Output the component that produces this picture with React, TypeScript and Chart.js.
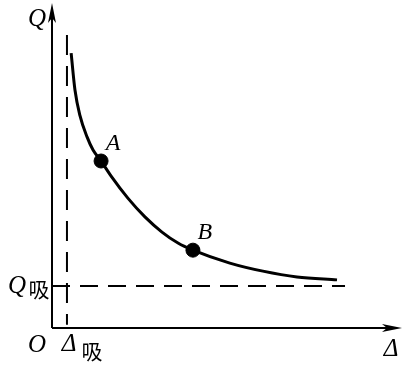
import React, { useEffect, useRef } from "react";
import { Chart, registerables } from "chart.js";

Chart.register(...registerables);

const curveDelta = [0.55, 0.66, 0.8, 1.01, 1.18, 1.41, 1.72, 2.18, 2.67, 3.16, 3.62, 4.05, 5.11, 6.06, 7.04, 8.19];
const curveQ = [8.51, 7.37, 6.59, 5.91, 5.51, 5.17, 4.67, 4.02, 3.44, 2.97, 2.63, 2.41, 2.01, 1.76, 1.58, 1.49];

// Marked points A and B
const pointNames = ["A", "B"];
const pointDelta = [1.41, 4.05];
const pointQ = [5.17, 2.41];

// Asymptote levels
const qAbs = 1.3; // Q吸
const deltaAbs = 0.43; // Δ吸
const hLineEnd = 8.42;
const vLineTop = 9.07;

const axisMax = 10;

const serif = '"Liberation Serif", "Times New Roman", serif';
const cjk = '"Noto Sans CJK SC", sans-serif';

const annotate = {
  id: "annotate",
  afterDraw(chart: any) {
    const { ctx, scales } = chart;
    const xs = scales.x;
    const ys = scales.y;
    const x0 = xs.getPixelForValue(0);
    const y0 = ys.getPixelForValue(0);
    const xEnd = xs.getPixelForValue(axisMax);
    const yTop = ys.getPixelForValue(axisMax);
    ctx.save();
    ctx.strokeStyle = "#000";
    ctx.fillStyle = "#000";
    ctx.lineWidth = 2;
    // axes
    ctx.beginPath();
    ctx.moveTo(x0, y0);
    ctx.lineTo(x0, yTop + 6);
    ctx.moveTo(x0, y0);
    ctx.lineTo(xEnd - 6, y0);
    ctx.stroke();
    // arrows
    ctx.beginPath();
    ctx.moveTo(x0, yTop - 2);
    ctx.lineTo(x0 - 4, yTop + 18);
    ctx.lineTo(x0, yTop + 13);
    ctx.lineTo(x0 + 4, yTop + 18);
    ctx.closePath();
    ctx.fill();
    ctx.beginPath();
    ctx.moveTo(xEnd + 2, y0);
    ctx.lineTo(xEnd - 18, y0 - 4);
    ctx.lineTo(xEnd - 13, y0);
    ctx.lineTo(xEnd - 18, y0 + 4);
    ctx.closePath();
    ctx.fill();

    ctx.textAlign = "center";
    ctx.textBaseline = "middle";
    const it = (t: string, x: number, y: number, size = 25) => {
      ctx.font = `italic ${size}px ${serif}`;
      ctx.fillText(t, x, y);
    };
    const cj = (t: string, x: number, y: number, size = 21) => {
      ctx.font = `${size}px ${cjk}`;
      ctx.fillText(t, x, y);
    };
    // axis titles
    it("Q", x0 - 15, yTop + 14);
    it("Δ", xEnd - 9, y0 + 21);
    it("O", x0 - 15, y0 + 17);
    // asymptote labels
    const qy = ys.getPixelForValue(qAbs);
    it("Q", 17, qy);
    cj("吸", 39, qy + 3);
    const dx = xs.getPixelForValue(deltaAbs);
    it("Δ", dx + 2, y0 + 16);
    cj("吸", dx + 25, y0 + 23);
    // point labels
    pointNames.forEach((n, i) => {
      const px = xs.getPixelForValue(pointDelta[i]);
      const py = ys.getPixelForValue(pointQ[i]);
      it(n, px + 12, py - 17, 24);
    });
    ctx.restore();
  },
};

export default function App() {
  const ref = useRef<HTMLCanvasElement>(null);
  useEffect(() => {
    if (!ref.current) return;
    const chart = new Chart(ref.current, {
      type: "scatter",
      data: {
        datasets: [
          {
            data: curveDelta.map((d, i) => ({ x: d, y: curveQ[i] })),
            showLine: true,
            borderColor: "#000",
            borderWidth: 3,
            pointRadius: 0,
            cubicInterpolationMode: "monotone",
          },
          {
            data: [
              { x: 0, y: qAbs },
              { x: hLineEnd, y: qAbs },
            ],
            showLine: true,
            borderColor: "#000",
            borderWidth: 2,
            borderDash: [18, 10],
            pointRadius: 0,
          },
          {
            data: [
              { x: deltaAbs, y: vLineTop },
              { x: deltaAbs, y: 0.1 },
            ],
            showLine: true,
            borderColor: "#000",
            borderWidth: 2,
            borderDash: [20, 11],
            pointRadius: 0,
          },
          {
            data: pointDelta.map((d, i) => ({ x: d, y: pointQ[i] })),
            pointRadius: 7,
            pointHoverRadius: 7,
            pointBackgroundColor: "#000",
            pointBorderColor: "#000",
          },
        ],
      },
      options: {
        animation: false,
        responsive: false,
        layout: { autoPadding: false, padding: { left: 52, right: 2, top: 5, bottom: 37 } },
        plugins: { legend: { display: false }, tooltip: { enabled: false } },
        scales: {
          x: { type: "linear", min: 0, max: axisMax, display: false },
          y: { type: "linear", min: 0, max: axisMax, display: false },
        },
      },
      plugins: [annotate],
    } as any);
    return () => chart.destroy();
  }, []);
  return (
    <div style={{ position: "fixed", left: 0, top: 0, width: 402, height: 365, background: "#fff" }}>
      <canvas ref={ref} width={402} height={365} style={{ width: 402, height: 365 }} />
    </div>
  );
}
